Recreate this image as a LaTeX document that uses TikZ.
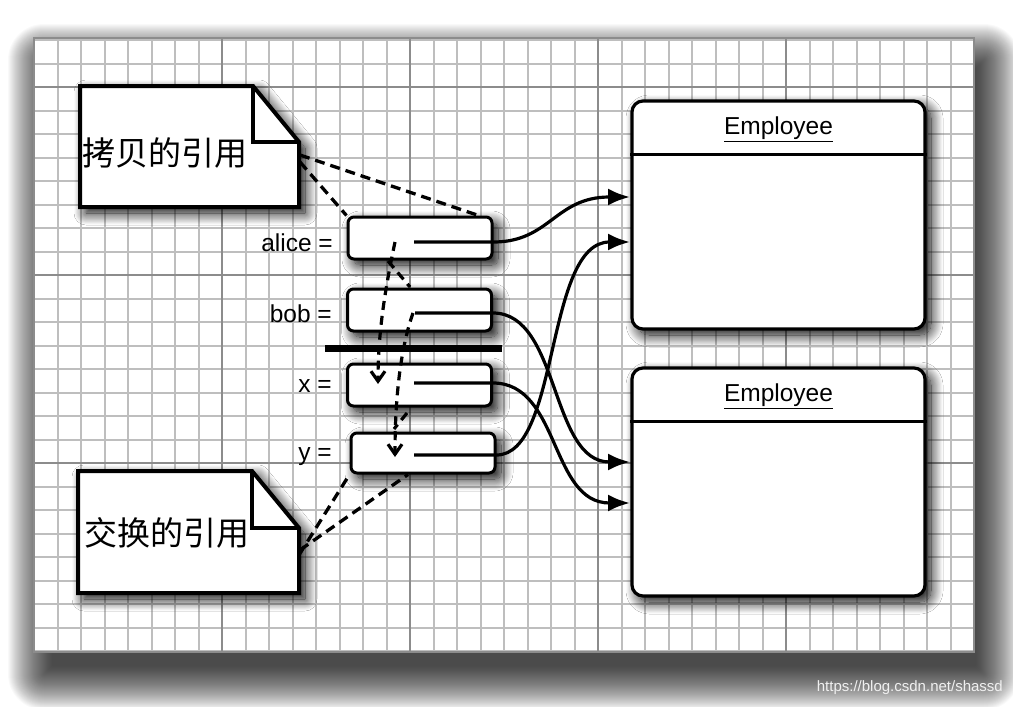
\documentclass[tikz,border=0pt]{standalone}
\usepackage{fontspec}
\setmainfont{Liberation Sans}
\newfontfamily\cjk{Noto Sans CJK SC}
\usetikzlibrary{shadows.blur,arrows.meta}
\definecolor{gridlight}{RGB}{190,190,190}
\definecolor{griddark}{RGB}{140,140,140}
\definecolor{wmark}{RGB}{240,240,240}
\tikzset{
  gridminor/.style={draw=gridlight, line width=2pt},
  gridmajor/.style={draw=griddark, line width=2.2pt},
  nodeshadow/.style={blur shadow={shadow xshift=6pt, shadow yshift=-6pt, shadow blur radius=12pt, shadow opacity=100, shadow blur steps=16}},
  notestyle/.style={draw=black, fill=white, line width=4pt, line join=miter, nodeshadow},
  refbox/.style={draw=black, fill=white, line width=3pt, rounded corners=6pt, minimum width=144pt, minimum height=42pt, inner sep=0pt, nodeshadow},
  empbox/.style={draw=black, fill=white, line width=3.2pt, rounded corners=11pt, minimum width=293pt, minimum height=228pt, inner sep=0pt, nodeshadow},
  lbl/.style={font=\fontsize{24.5}{24.5}\selectfont, anchor=east, inner sep=0pt},
  title/.style={font=\fontsize{24.5}{24.5}\selectfont, inner sep=0pt},
  notetext/.style={font=\cjk\fontsize{33}{33}\selectfont, anchor=west, inner sep=0pt},
  conn/.style={draw=black, line width=3.2pt, -{Latex[length=22pt,width=17pt]}},
  dasharrow/.style={draw=black, line width=3.2pt, dash pattern=on 9pt off 6pt, -{Straight Barb[length=10pt,width=14pt]}},
  dashline/.style={draw=black, line width=3.2pt, dash pattern=on 9pt off 6pt},
  notelink/.style={draw=black, line width=3.3pt, dash pattern=on 10pt off 6pt},
  sheetshade/.style={fill=black, fill opacity=0.024, draw=none},
}
\begin{document}
\begin{tikzpicture}[x=1pt, y=-1pt]
\useasboundingbox (0,0) rectangle (1013,707);
\fill[white] (0,0) rectangle (1013,707);
% sheet shadow, built from soft layers
\foreach \r in {36,35,...,-8} {
  \path[sheetshade, rounded corners={max(\r,1)*1pt}] (44-\r,60-\r) rectangle (984+\r,674+\r);
}
\path[fill=white] (34,38) rectangle (974,652);
% grid
\foreach \k in {0,...,40} {
  \pgfmathsetmacro\xx{34+23.5*\k}
  \draw[gridminor] (\xx,38) -- (\xx,652);
}
\foreach \k in {0,...,26} {
  \pgfmathsetmacro\yy{40+23.5*\k}
  \draw[gridminor] (34,\yy) -- (974,\yy);
}
\foreach \xx in {222,410,598,786} \draw[gridmajor] (\xx,38) -- (\xx,652);
\foreach \yy in {87,275,463} \draw[gridmajor] (34,\yy) -- (974,\yy);
\draw[griddark, line width=1.5pt] (34,38) rectangle (974,652);

% notes
\path[notestyle] (80,86) -- (253,86) -- (299,142) -- (299,207) -- (80,207) -- cycle;
\draw[line width=4pt, line join=miter] (253,86) -- (253,142) -- (299,142);
\node[notetext] (n1) at (82,153) {拷贝的引用};
\path[notestyle] (78,471) -- (252,471) -- (299,528) -- (299,593) -- (78,593) -- cycle;
\draw[line width=4pt, line join=miter] (252,471) -- (252,528) -- (299,528);
\node[notetext] (n2) at (84,533) {交换的引用};
\coordinate (n1a) at (300,155);
\coordinate (n1b) at (300,162);
\coordinate (n2a) at (299,555);
\coordinate (n2b) at (300,550);

% employee boxes
\node[empbox] (e1) at (778.5,215) {};
\node[empbox] (e2) at (778.5,482) {};
\draw[line width=2.6pt] ([yshift=-55pt]e1.north west) -- ([yshift=-55pt]e1.north east);
\draw[line width=2.6pt] ([yshift=-55pt]e2.north west) -- ([yshift=-55pt]e2.north east);
\node[title] (t1) at ([yshift=-30pt]e1.north) {\underline{Employee}};
\node[title] (t2) at ([yshift=-30pt]e2.north) {\underline{Employee}};

% reference boxes
\node[refbox] (alice) at (420,238) {};
\node[refbox] (bob) at (419.5,310) {};
\node[refbox] (xb) at (419.5,385) {};
\node[refbox, minimum height=40pt] (yb) at (423,453) {};
\node[lbl] (la) at (333,243) {alice =};
\node[lbl] (lb) at (332,314) {bob =};
\node[lbl] (lx) at (332,386) {x =};
\node[lbl] (ly) at (332,457) {y =};

% separator bar
\draw[line width=7pt] (325,348) -- (502,348);

% note links
\draw[notelink] (n1a) -- ([xshift=-15pt]alice.north east |- alice.north);
\draw[notelink] (n1b) -- (alice.north west);
\draw[notelink] (n2a) -- (yb.south west);
\draw[notelink] (n2b) -- ([xshift=-15pt]yb.south);

% inner pointers and connectors
\coordinate (ai) at (414,242);
\coordinate (bi) at (415,313);
\coordinate (xi) at (414,383);
\coordinate (yi) at (414,455);
\draw[conn] (ai) -- (alice.east |- ai) .. controls (550,242) and (555,197) .. (630,197);
\draw[conn] (bi) -- (bob.east |- bi) .. controls (560,313) and (550,462) .. (630,462);
\draw[conn] (xi) -- (xb.east |- xi) .. controls (560,383) and (550,503) .. (630,503);
\draw[conn] (yi) -- (yb.east |- yi) .. controls (560,455) and (545,242) .. (630,242);

% dashed swap arrows
\coordinate (ad) at (395,242);
\coordinate (bd) at (413,313);
\draw[dasharrow] (ad) .. controls (386,285) and (378,330) .. (378,384);
\draw[dasharrow] (bd) .. controls (400,350) and (395,400) .. (395,457);
\draw[dashline] (388,261) -- (410,287);
\draw[dashline] (407,413) -- (394,429);

% watermark
\node[font=\fontsize{15}{15}\selectfont, text=wmark, anchor=east, inner sep=0pt] (wm) at (1003,688) {https://blog.csdn.net/shassd};
\end{tikzpicture}
\end{document}
